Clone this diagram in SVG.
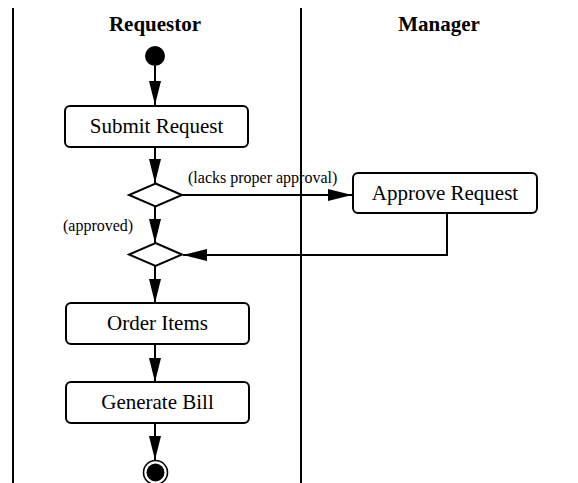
<svg xmlns="http://www.w3.org/2000/svg" width="578" height="483" viewBox="0 0 578 483">
<defs>
<marker id="arr" markerWidth="24" markerHeight="12" refX="24" refY="6" orient="auto" markerUnits="userSpaceOnUse">
<path d="M0,0 L24,6 L0,12 Z" fill="#000"/>
</marker>
<style>
.lane{stroke:#000;stroke-width:2;fill:none}
.box{fill:#fff;stroke:#000;stroke-width:2}
.dia{fill:#fff;stroke:#000;stroke-width:2}
.conn{stroke:#000;stroke-width:2;fill:none}
.title{font-family:"Liberation Serif","Times New Roman",serif;font-weight:bold;font-size:21px;text-anchor:middle}
.lbl{font-family:"Liberation Serif","Times New Roman",serif;font-size:21px;text-anchor:middle}
.small{font-family:"Liberation Serif","Times New Roman",serif;font-size:16px}
</style>
</defs>
<rect width="578" height="483" fill="#fff"/>
<g id="lanes">
<line class="lane" x1="13" y1="8" x2="13" y2="483"/>
<line class="lane" x1="301" y1="8" x2="301" y2="483"/>
<text class="title" x="155" y="31">Requestor</text>
<text class="title" x="439" y="31">Manager</text>
</g>
<g id="connectors">
<line class="conn" x1="155" y1="66" x2="155" y2="105" marker-end="url(#arr)"/>
<line class="conn" x1="155" y1="147" x2="155" y2="183" marker-end="url(#arr)"/>
<line class="conn" x1="182" y1="195" x2="352" y2="195" marker-end="url(#arr)"/>
<line class="conn" x1="155" y1="206" x2="155" y2="243" marker-end="url(#arr)"/>
<polyline class="conn" points="447,213 447,255 183,255" marker-end="url(#arr)"/>
<line class="conn" x1="155" y1="266" x2="155" y2="303" marker-end="url(#arr)"/>
<line class="conn" x1="155" y1="344" x2="155" y2="382" marker-end="url(#arr)"/>
<line class="conn" x1="155" y1="423" x2="155" y2="460" marker-end="url(#arr)"/>
<text class="small" x="188" y="183">(lacks proper approval)</text>
<text class="small" x="63" y="231">(approved)</text>
</g>
<g id="start"><circle cx="155" cy="56" r="10" fill="#000"/></g>
<g id="submit"><rect class="box" x="65" y="106" width="183" height="41" rx="5"/><text class="lbl" x="156.5" y="133">Submit Request</text></g>
<g id="decision1"><polygon class="dia" points="155.5,183.5 182,195 155.5,206.5 129,195"/></g>
<g id="approve"><rect class="box" x="353" y="173" width="184" height="40" rx="5"/><text class="lbl" x="445" y="200">Approve Request</text></g>
<g id="merge"><polygon class="dia" points="155.5,243 182,254.5 155.5,266 129,254.5"/></g>
<g id="order"><rect class="box" x="66" y="303" width="183" height="41" rx="5"/><text class="lbl" x="157.5" y="330">Order Items</text></g>
<g id="bill"><rect class="box" x="66" y="382" width="183" height="41" rx="5"/><text class="lbl" x="157.5" y="409">Generate Bill</text></g>
<g id="end"><circle cx="155.5" cy="472.5" r="12" fill="#fff" stroke="#000" stroke-width="1.6"/><circle cx="155.5" cy="472.5" r="9" fill="#000"/></g>
</svg>
